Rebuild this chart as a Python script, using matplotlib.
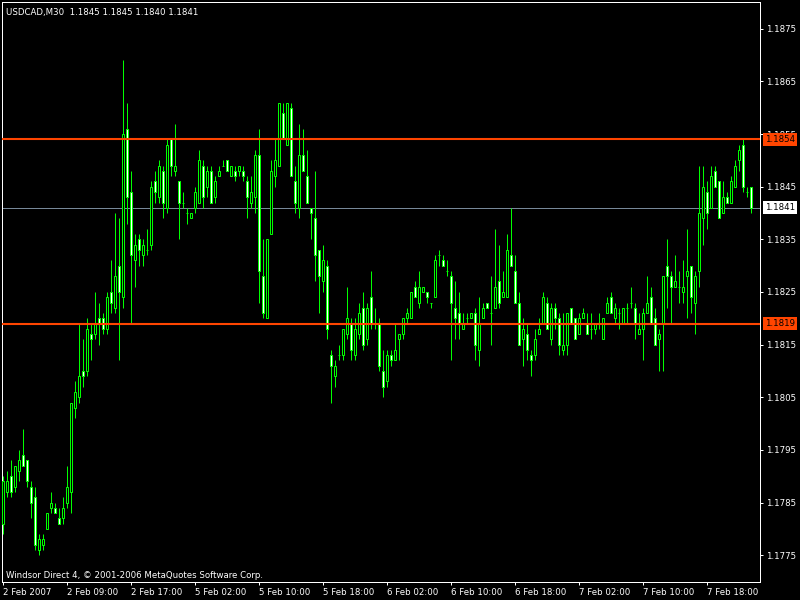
import matplotlib
matplotlib.use("Agg")
import matplotlib.pyplot as plt
import matplotlib.transforms as mtransforms
import numpy as np

# USDCAD M30, 2 Feb 2007 01:00 -> 7 Feb 2007
opens = [1.1781, 1.1787, 1.1790, 1.1788, 1.1791, 1.1794, 1.1793, 1.1788, 1.1786, 1.1776,
         1.1777, 1.1780, 1.1784, 1.1784, 1.1782, 1.1782, 1.1785, 1.1787, 1.1803, 1.1805,
         1.1810, 1.1810, 1.1817, 1.1817, 1.1820, 1.1820, 1.1818, 1.1825, 1.1822, 1.1830,
         1.1824, 1.1856, 1.1844, 1.1831, 1.1835, 1.1832, 1.1833, 1.1834, 1.1846, 1.1843,
         1.1848, 1.1841, 1.1854, 1.1848, 1.1846, 1.1842, 1.1840, 1.1839, 1.1841, 1.1842,
         1.1849, 1.1845, 1.1848, 1.1843, 1.1847, 1.1849, 1.1850, 1.1847, 1.1848, 1.1848,
         1.1848, 1.1846, 1.1842, 1.1843, 1.1851, 1.1828, 1.1820, 1.1836, 1.1847, 1.1849,
         1.1859, 1.1853, 1.1860, 1.1846, 1.1841, 1.1851, 1.1847, 1.1841, 1.1839, 1.1833,
         1.1827, 1.1830, 1.1813, 1.1809, 1.1813, 1.1813, 1.1817, 1.1819, 1.1813, 1.1817,
         1.1822, 1.1816, 1.1824, 1.1819, 1.1819, 1.1810, 1.1808, 1.1813, 1.1812, 1.1816,
         1.1817, 1.1820, 1.1820, 1.1826, 1.1823, 1.1825, 1.1825, 1.1823, 1.1824, 1.1832,
         1.1831, 1.1829, 1.1828, 1.1822, 1.1821, 1.1818, 1.1820, 1.1820, 1.1821, 1.1814,
         1.1820, 1.1823, 1.1821, 1.1822, 1.1827, 1.1824, 1.1824, 1.1832, 1.1829, 1.1823,
         1.1816, 1.1817, 1.1813, 1.1813, 1.1817, 1.1819, 1.1823, 1.1816, 1.1822, 1.1820,
         1.1814, 1.1815, 1.1822, 1.1820, 1.1817, 1.1820, 1.1819, 1.1818, 1.1818, 1.1819,
         1.1816, 1.1821, 1.1824, 1.1820, 1.1821, 1.1819, 1.1822, 1.1823, 1.1822, 1.1817,
         1.1818, 1.1821, 1.1824, 1.1820, 1.1816, 1.1819, 1.1830, 1.1828, 1.1826, 1.1826,
         1.1825, 1.1828, 1.1830, 1.1823, 1.1829, 1.1839, 1.1844, 1.1841, 1.1848, 1.1846,
         1.1840, 1.1843, 1.1842, 1.1845, 1.1850, 1.1853, 1.1844, 1.1845]
highs = [1.1790, 1.1791, 1.1793, 1.1792, 1.1795, 1.1799, 1.1793, 1.1789, 1.1788, 1.1779,
         1.1779, 1.1783, 1.1787, 1.1785, 1.1784, 1.1786, 1.1792, 1.1804, 1.1808, 1.1819,
         1.1816, 1.1820, 1.1819, 1.1825, 1.1823, 1.1821, 1.1825, 1.1831, 1.1840, 1.1839,
         1.1869, 1.1861, 1.1848, 1.1836, 1.1836, 1.1835, 1.1837, 1.1846, 1.1848, 1.1850,
         1.1849, 1.1854, 1.1854, 1.1857, 1.1846, 1.1844, 1.1841, 1.1840, 1.1845, 1.1852,
         1.1850, 1.1849, 1.1849, 1.1847, 1.1849, 1.1850, 1.1850, 1.1849, 1.1849, 1.1849,
         1.1849, 1.1847, 1.1847, 1.1852, 1.1856, 1.1835, 1.1835, 1.1850, 1.1854, 1.1861,
         1.1861, 1.1861, 1.1861, 1.1849, 1.1857, 1.1856, 1.1852, 1.1841, 1.1848, 1.1833,
         1.1834, 1.1831, 1.1814, 1.1812, 1.1815, 1.1818, 1.1826, 1.1820, 1.1820, 1.1823,
         1.1825, 1.1823, 1.1829, 1.1822, 1.1820, 1.1814, 1.1814, 1.1814, 1.1819, 1.1817,
         1.1820, 1.1822, 1.1825, 1.1827, 1.1829, 1.1826, 1.1825, 1.1823, 1.1832, 1.1833,
         1.1832, 1.1831, 1.1829, 1.1827, 1.1825, 1.1821, 1.1821, 1.1821, 1.1822, 1.1824,
         1.1823, 1.1823, 1.1828, 1.1837, 1.1834, 1.1829, 1.1836, 1.1841, 1.1832, 1.1825,
         1.1820, 1.1819, 1.1814, 1.1818, 1.1820, 1.1825, 1.1824, 1.1823, 1.1823, 1.1821,
         1.1821, 1.1821, 1.1822, 1.1820, 1.1821, 1.1822, 1.1821, 1.1821, 1.1819, 1.1821,
         1.1820, 1.1824, 1.1825, 1.1823, 1.1822, 1.1822, 1.1823, 1.1826, 1.1823, 1.1821,
         1.1822, 1.1828, 1.1826, 1.1822, 1.1818, 1.1828, 1.1835, 1.1829, 1.1832, 1.1829,
         1.1831, 1.1837, 1.1830, 1.1829, 1.1849, 1.1849, 1.1846, 1.1849, 1.1849, 1.1846,
         1.1846, 1.1844, 1.1847, 1.1850, 1.1853, 1.1854, 1.1845, 1.1845]
lows = [1.1779, 1.1786, 1.1786, 1.1787, 1.1789, 1.1792, 1.1788, 1.1782, 1.1776, 1.1775,
        1.1776, 1.1780, 1.1783, 1.1783, 1.1781, 1.1781, 1.1784, 1.1783, 1.1801, 1.1804,
        1.1807, 1.1809, 1.1812, 1.1816, 1.1815, 1.1817, 1.1817, 1.1821, 1.1821, 1.1812,
        1.1822, 1.1838, 1.1819, 1.1826, 1.1830, 1.1830, 1.1832, 1.1833, 1.1842, 1.1842,
        1.1839, 1.1840, 1.1847, 1.1847, 1.1835, 1.1841, 1.1838, 1.1839, 1.1840, 1.1842,
        1.1841, 1.1843, 1.1842, 1.1842, 1.1847, 1.1849, 1.1848, 1.1847, 1.1846, 1.1847,
        1.1846, 1.1839, 1.1841, 1.1840, 1.1823, 1.1820, 1.1820, 1.1836, 1.1845, 1.1849,
        1.1854, 1.1853, 1.1847, 1.1840, 1.1839, 1.1848, 1.1842, 1.1835, 1.1827, 1.1821,
        1.1825, 1.1816, 1.1804, 1.1807, 1.1812, 1.1812, 1.1816, 1.1812, 1.1812, 1.1816,
        1.1814, 1.1815, 1.1818, 1.1818, 1.1810, 1.1805, 1.1807, 1.1811, 1.1812, 1.1812,
        1.1816, 1.1819, 1.1820, 1.1824, 1.1822, 1.1825, 1.1823, 1.1822, 1.1824, 1.1830,
        1.1830, 1.1828, 1.1812, 1.1816, 1.1816, 1.1818, 1.1819, 1.1820, 1.1812, 1.1811,
        1.1820, 1.1822, 1.1815, 1.1822, 1.1822, 1.1824, 1.1824, 1.1830, 1.1823, 1.1815,
        1.1811, 1.1812, 1.1809, 1.1812, 1.1817, 1.1819, 1.1818, 1.1815, 1.1818, 1.1813,
        1.1813, 1.1813, 1.1819, 1.1816, 1.1817, 1.1820, 1.1817, 1.1816, 1.1817, 1.1818,
        1.1816, 1.1821, 1.1821, 1.1819, 1.1818, 1.1819, 1.1819, 1.1822, 1.1816, 1.1817,
        1.1812, 1.1821, 1.1819, 1.1815, 1.1810, 1.1810, 1.1822, 1.1819, 1.1826, 1.1823,
        1.1823, 1.1820, 1.1821, 1.1817, 1.1826, 1.1834, 1.1837, 1.1841, 1.1845, 1.1839,
        1.1840, 1.1842, 1.1842, 1.1845, 1.1848, 1.1844, 1.1843, 1.1840]
closes = [1.1789, 1.1789, 1.1787, 1.1792, 1.1793, 1.1792, 1.1789, 1.1785, 1.1777, 1.1778,
          1.1778, 1.1783, 1.1785, 1.1783, 1.1781, 1.1784, 1.1788, 1.1804, 1.1806, 1.1809,
          1.1809, 1.1818, 1.1816, 1.1819, 1.1819, 1.1818, 1.1824, 1.1823, 1.1828, 1.1825,
          1.1855, 1.1843, 1.1832, 1.1834, 1.1833, 1.1834, 1.1833, 1.1845, 1.1844, 1.1849,
          1.1842, 1.1853, 1.1849, 1.1849, 1.1842, 1.1842, 1.1840, 1.1840, 1.1844, 1.1850,
          1.1843, 1.1848, 1.1842, 1.1846, 1.1848, 1.1849, 1.1848, 1.1849, 1.1847, 1.1849,
          1.1847, 1.1843, 1.1844, 1.1851, 1.1829, 1.1821, 1.1835, 1.1848, 1.1850, 1.1861,
          1.1854, 1.1861, 1.1847, 1.1842, 1.1851, 1.1848, 1.1842, 1.1840, 1.1832, 1.1828,
          1.1831, 1.1818, 1.1811, 1.1811, 1.1813, 1.1818, 1.1820, 1.1814, 1.1818, 1.1821,
          1.1815, 1.1822, 1.1819, 1.1819, 1.1811, 1.1807, 1.1813, 1.1812, 1.1814, 1.1817,
          1.1820, 1.1821, 1.1825, 1.1824, 1.1826, 1.1826, 1.1824, 1.1823, 1.1831, 1.1832,
          1.1830, 1.1829, 1.1823, 1.1820, 1.1819, 1.1819, 1.1820, 1.1821, 1.1815, 1.1819,
          1.1822, 1.1822, 1.1821, 1.1826, 1.1823, 1.1825, 1.1833, 1.1830, 1.1823, 1.1815,
          1.1818, 1.1814, 1.1812, 1.1816, 1.1818, 1.1824, 1.1818, 1.1822, 1.1820, 1.1815,
          1.1815, 1.1821, 1.1819, 1.1816, 1.1820, 1.1821, 1.1817, 1.1818, 1.1819, 1.1819,
          1.1820, 1.1823, 1.1821, 1.1822, 1.1821, 1.1822, 1.1822, 1.1823, 1.1819, 1.1818,
          1.1821, 1.1823, 1.1819, 1.1815, 1.1817, 1.1828, 1.1828, 1.1826, 1.1827, 1.1826,
          1.1826, 1.1829, 1.1824, 1.1828, 1.1840, 1.1845, 1.1840, 1.1847, 1.1845, 1.1839,
          1.1843, 1.1842, 1.1846, 1.1849, 1.1852, 1.1845, 1.1844, 1.1841]

tick_bars = [0, 16, 32, 48, 64, 80, 96, 112, 128, 144, 160, 176]
tick_labels = ["2 Feb 2007", "2 Feb 09:00", "2 Feb 17:00", "5 Feb 02:00", "5 Feb 10:00",
               "5 Feb 18:00", "6 Feb 02:00", "6 Feb 10:00", "6 Feb 18:00", "7 Feb 02:00",
               "7 Feb 10:00", "7 Feb 18:00"]
price_ticks = [1.1775, 1.1785, 1.1795, 1.1805, 1.1815, 1.1825, 1.1835, 1.1845, 1.1855, 1.1865, 1.1875]
level_lines = [1.1854, 1.1819]
bid = closes[-1]

green = "#00FF00"
red = "#FF4500"
px = 0.72  # one pixel in points at dpi 100

fig = plt.figure(figsize=(8, 6), dpi=100, facecolor="black")
ax = fig.add_axes([2 / 800, 18 / 600, 758 / 800, 580 / 600])
ax.set_facecolor("black")

x = np.arange(len(closes))
o = np.array(opens)
c = np.array(closes)
bull = c >= o

ax.vlines(x, lows, highs, color=green, linewidth=px, zorder=2)
body_lo = np.minimum(o, c)
body_h = np.abs(c - o)
ax.bar(x[bull], body_h[bull], bottom=body_lo[bull], width=0.5, facecolor="black",
       edgecolor=green, linewidth=px, zorder=3)
ax.bar(x[~bull], body_h[~bull], bottom=body_lo[~bull], width=0.5, facecolor="white",
       edgecolor=green, linewidth=px, zorder=3)

for lvl in level_lines:
    ax.axhline(lvl, color=red, linewidth=1.5, zorder=4)
ax.axhline(bid, color="#778899", linewidth=px, zorder=1)

ax.set_xlim(-0.33, 189.2)
ax.set_ylim(1.17699, 1.18801)

for s in ax.spines.values():
    s.set_color("white")
    s.set_linewidth(px)

ax.yaxis.tick_right()
ax.set_yticks(price_ticks)
ax.set_yticklabels(["%.4f" % p for p in price_ticks])
ax.set_xticks(tick_bars)
ax.set_xticklabels(tick_labels, ha="left")
ax.tick_params(colors="white", labelcolor="white", labelsize=6.2, length=2.5,
               width=px, direction="out", pad=2)
for lab in ax.get_xticklabels():
    lab.set_x(lab.get_position()[0])

# price boxes on the right axis
trans = mtransforms.blended_transform_factory(fig.transFigure, ax.transData)
for lvl in level_lines:
    ax.text(765 / 800, lvl, "%.4f" % lvl, transform=trans, ha="left", va="center",
            fontsize=6.2, color="black", clip_on=False, zorder=6,
            bbox=dict(boxstyle="square,pad=0.25", fc=red, ec="none"))
ax.text(765 / 800, bid, "%.4f" % bid, transform=trans, ha="left", va="center",
        fontsize=6.2, color="black", clip_on=False, zorder=6,
        bbox=dict(boxstyle="square,pad=0.25", fc="white", ec="none"))

fig.text(6 / 800, 1 - 12 / 600, "USDCAD,M30  %.4f %.4f %.4f %.4f" % (opens[-1], highs[-1], lows[-1], closes[-1]),
         color="white", fontsize=6.2, va="center", ha="left")
fig.text(6 / 800, 25 / 600, "Windsor Direct 4, \u00a9 2001-2006 MetaQuotes Software Corp.",
         color="white", fontsize=6.2, va="center", ha="left")

fig.savefig("out.png", dpi=100, facecolor="black")
